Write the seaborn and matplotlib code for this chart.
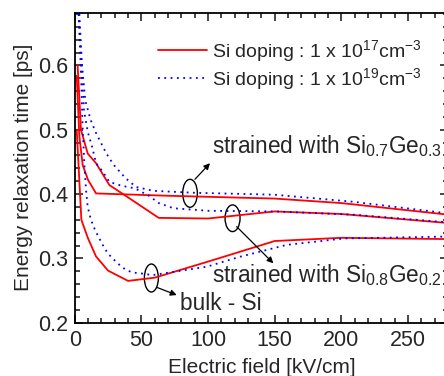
import numpy as np
import pandas as pd
import matplotlib
matplotlib.use("Agg")
import matplotlib.pyplot as plt
from matplotlib.patches import Ellipse
from matplotlib.lines import Line2D
from matplotlib.ticker import MultipleLocator
import seaborn as sns

# ---- data ----
# Si doping 1e17 (red solid)
red_ge03_x = [1.5, 3.5, 6, 10, 16, 68, 150, 200, 280]
red_ge03_y = [0.584, 0.49, 0.445, 0.422, 0.401, 0.3975, 0.393, 0.386, 0.368]
red_ge02_x = [2.2, 4.7, 9.75, 16, 26, 37, 63, 100, 150, 200, 280]
red_ge02_y = [0.60, 0.50, 0.463, 0.448, 0.414, 0.399, 0.363, 0.362, 0.373, 0.369, 0.355]
red_bulk_x = [1.5, 5, 10, 16, 25, 40, 60, 100, 150, 200, 280]
red_bulk_y = [0.50, 0.36, 0.331, 0.303, 0.281, 0.265, 0.270, 0.295, 0.327, 0.332, 0.330]
# Si doping 1e19 (blue dotted)
blue_ge03_x = [3.5, 5.5, 8, 12, 16, 23.5, 29, 38, 46, 59, 90, 150, 209, 280]
blue_ge03_y = [0.68, 0.60, 0.545, 0.515, 0.495, 0.464, 0.446, 0.425, 0.411, 0.405, 0.402, 0.399, 0.388, 0.370]
blue_ge02_x = [3, 5, 7, 9.75, 13, 16, 21, 26, 35, 45, 56, 63, 74, 100, 150, 209, 280]
blue_ge02_y = [0.68, 0.60, 0.53, 0.497, 0.474, 0.448, 0.435, 0.419, 0.413, 0.409, 0.397, 0.386, 0.378, 0.374, 0.373, 0.368, 0.356]
blue_bulk_x = [3, 4.5, 6, 7.2, 8.5, 9.75, 12.2, 14.7, 17.2, 21, 24.7, 29.7, 33.5, 38.5, 43.5, 48.5, 58.5, 99, 124, 159, 202, 280]
blue_bulk_y = [0.68, 0.60, 0.50, 0.448, 0.406, 0.38, 0.36, 0.347, 0.336, 0.321, 0.308, 0.2975, 0.29, 0.282, 0.278, 0.277, 0.274, 0.287, 0.3026, 0.321, 0.331, 0.334]

legend_labels = ["Si doping : 1 x 10$^{17}$cm$^{-3}$", "Si doping : 1 x 10$^{19}$cm$^{-3}$"]
x_label = "Electric field [kV/cm]"
y_label = "Energy relaxation time [ps]"
y_ticks = [0.2, 0.3, 0.4, 0.5, 0.6]
y_ticklabels = ["0.2", "0.3", "0.4", "0.5", "0.6"]

sns.set_style("ticks")
plt.rcParams["font.family"] = ["Liberation Sans", "DejaVu Sans"]
plt.rcParams["mathtext.fontset"] = "custom"
plt.rcParams["mathtext.rm"] = "Liberation Sans"
plt.rcParams["mathtext.it"] = "Liberation Sans:italic"
plt.rcParams["mathtext.bf"] = "Liberation Sans:bold"

fig = plt.figure(figsize=(4.44, 3.76), dpi=100)
ax = fig.add_axes([74.7 / 444, 53.3 / 376, (448 - 74.7) / 444, 310 / 376])

frames = []
for name, xs, ys, dop in [
    ("r03", red_ge03_x, red_ge03_y, "17"), ("r02", red_ge02_x, red_ge02_y, "17"), ("rb", red_bulk_x, red_bulk_y, "17"),
    ("b03", blue_ge03_x, blue_ge03_y, "19"), ("b02", blue_ge02_x, blue_ge02_y, "19"), ("bb", blue_bulk_x, blue_bulk_y, "19")]:
    frames.append(pd.DataFrame({"x": xs, "y": ys, "curve": name, "dop": dop}))
df = pd.concat(frames, ignore_index=True)

red_df = df[df.dop == "17"]
blue_df = df[df.dop == "19"]
sns.lineplot(data=red_df, x="x", y="y", units="curve", estimator=None, sort=False,
             color="#FF0000", lw=1.3, ax=ax, legend=False)
sns.lineplot(data=blue_df, x="x", y="y", units="curve", estimator=None, sort=False,
             color="#0000FF", lw=1.3, ax=ax, legend=False)
for line in ax.lines[len(ax.lines) - 3:]:
    line.set_linestyle((0, (1, 2.5)))

ax.set_xlim(0, 280)
ax.set_ylim(0.2, 0.682)
ax.xaxis.set_major_locator(MultipleLocator(50))
ax.xaxis.set_minor_locator(MultipleLocator(10))
ax.yaxis.set_minor_locator(MultipleLocator(0.02))
ax.set_yticks(y_ticks)
ax.set_yticklabels(y_ticklabels)
ax.tick_params(which="both", direction="in", top=True, right=True, labelsize=15.5, width=1.2, pad=5)
ax.tick_params(which="major", length=6)
ax.tick_params(which="minor", length=3.5)
for s in ax.spines.values():
    s.set_linewidth(1.3)
    s.set_color("black")
ax.set_xlabel(x_label, fontsize=15, labelpad=5)
ax.set_ylabel(y_label, fontsize=15, labelpad=3)

h = [Line2D([], [], color="#FF0000", lw=1.3), Line2D([], [], color="#0000FF", lw=1.3, ls=(0, (1, 2.5)))]
ax.legend(h, legend_labels, loc="upper left", bbox_to_anchor=(158 / 444, 1 - 38 / 376),
          bbox_transform=fig.transFigure, frameon=False, fontsize=14, handlelength=2.5,
          handletextpad=0.3, labelspacing=0.12, borderaxespad=0, borderpad=0)

# annotations
for (cx, cy, w, hh) in [(86.5, 0.4012, 11, 0.0435), (118.4, 0.3624, 11.25, 0.0415), (57.5, 0.2695, 10.5, 0.0435)]:
    ax.add_patch(Ellipse((cx, cy), w, hh, fill=False, lw=1.0, ec="black"))
arrow = dict(arrowstyle="-|>", lw=0.9, color="black", mutation_scale=9, shrinkA=0, shrinkB=0)
ax.annotate("", xy=(101.5, 0.448), xytext=(90.2, 0.423), arrowprops=arrow)
ax.annotate("", xy=(149, 0.2924), xytext=(121.5, 0.3493), arrowprops=arrow)
ax.annotate("", xy=(76.5, 0.243), xytext=(61.5, 0.255), arrowprops=arrow)
ax.text(103, 0.4634, "strained with Si$_{0.7}$Ge$_{0.3}$", fontsize=16.3, va="baseline", ha="left")
ax.text(102.8, 0.2628, "strained with Si$_{0.8}$Ge$_{0.2}$", fontsize=16.3, va="baseline", ha="left")
ax.text(79.1, 0.2198, "bulk - Si", fontsize=16.3, va="baseline", ha="left")

fig.savefig("out.png", dpi=100)
